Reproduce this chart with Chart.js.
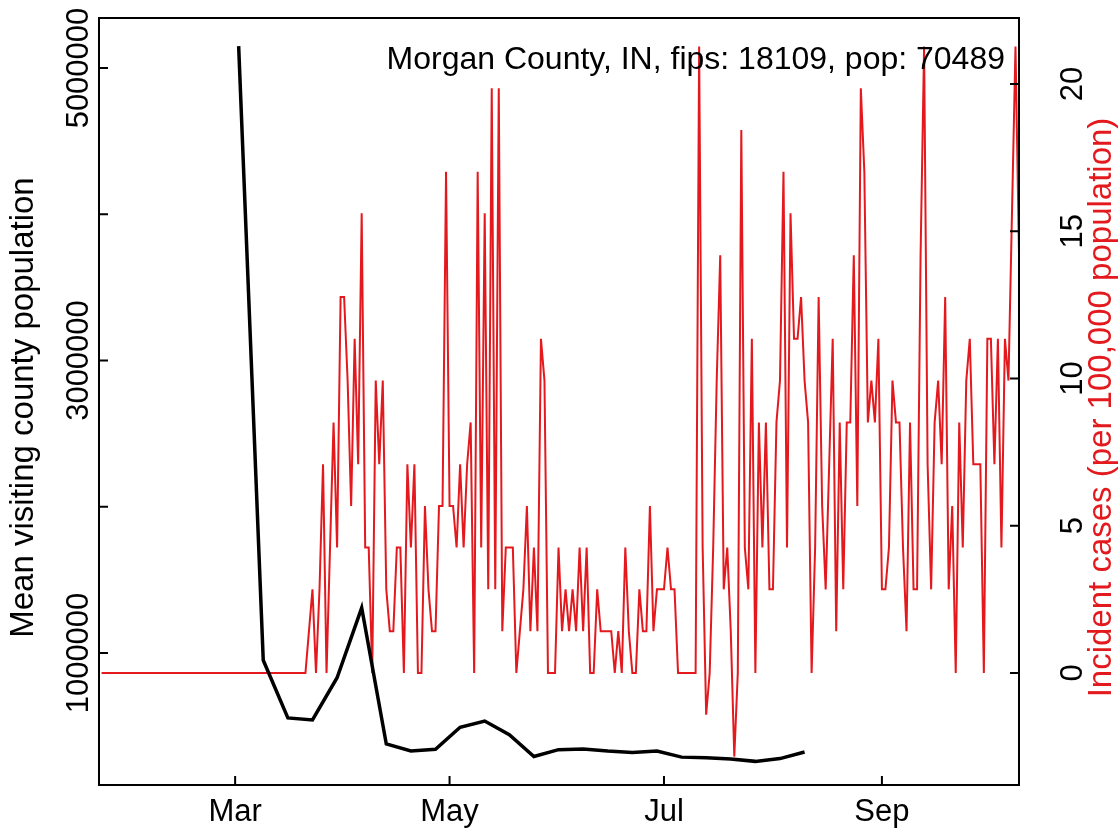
<!DOCTYPE html>
<html>
<head>
<meta charset="utf-8">
<script src="https://cdn.jsdelivr.net/npm/chart.js@4.4.1/dist/chart.umd.min.js"></script>
<style>
    html, body { margin: 0; padding: 0; background: #fff; }
    #wrap { width: 1119px; height: 829px; }
</style>
</head>
<body>
<div id="wrap"><canvas id="chart" width="1119" height="829"></canvas></div>
<script>
// day numbers counted from Jan 1 (= 0)
const monthTicks = [60, 121, 182, 244];
const monthLabels = ['Mar', 'May', 'Jul', 'Sep'];

// weekly mean visiting population (black)
const visitDays = [61, 68, 75, 82, 89, 96, 103, 110, 117, 124, 131, 138,
    145, 152, 159, 166, 173, 180, 187, 194, 201, 208, 215, 222];
const visitPop = [5150000, 950000, 556000, 542000, 831000, 1309000, 378000, 330000,
    342000, 492000, 535000, 441000, 292000, 339000, 344000, 330000, 320000, 330000,
    288000, 283000, 275000, 259000, 278000, 323000];

// daily incident cases per 100k (red), first value is day 22
const caseStartDay = 22;
const incidence = [
    0, 0, 0, 0, 0, 0, 0, 0, 0, 0, 0, 0, 0, 0, 0, 0, 0, 0, 0, 0,
    0, 0, 0, 0, 0, 0, 0, 0, 0, 0, 0, 0, 0, 0, 0, 0, 0, 0, 0, 0,
    0, 0, 0, 0, 0, 0, 0, 0, 0, 0, 0, 0, 0, 0, 0, 0, 0, 0, 0,
    1.42, 2.84, 0, 2.84, 7.09, 0, 4.26, 8.51, 4.26, 12.77,          // 81-90
    12.77, 9.93, 5.67, 11.35, 7.09, 15.61, 4.26, 4.26, 0, 9.93,     // 91-100
    7.09, 9.93, 2.84, 1.42, 1.42, 4.26, 4.26, 0, 7.09, 4.26,        // 101-110
    7.09, 0, 0, 5.67, 2.84, 1.42, 1.42, 5.67, 5.67, 17.02,          // 111-120
    5.67, 5.67, 4.26, 7.09, 4.26, 7.09, 8.51, 0, 17.02, 4.26,       // 121-130
    15.61, 2.84, 19.86, 2.84, 19.86, 1.42, 4.26, 4.26, 4.26, 0,     // 131-140
    1.42, 2.84, 5.67, 1.42, 4.26, 1.42, 11.35, 9.93, 0, 0,          // 141-150
    0, 4.26, 1.42, 2.84, 1.42, 2.84, 1.42, 4.26, 1.42, 4.26,        // 151-160
    0, 0, 2.84, 1.42, 1.42, 1.42, 1.42, 0, 1.42, 0,                 // 161-170
    4.26, 1.42, 0, 0, 2.84, 1.42, 1.42, 5.67, 1.42, 2.84,           // 171-180
    2.84, 2.84, 4.26, 2.84, 2.84, 0, 0, 0, 0, 0,                    // 181-190
    0, 21.28, 4.26, -1.42, 0, 4.26, 9.93, 14.19, 2.84, 4.26,        // 191-200
    1.42, -2.84, 0, 18.44, 4.26, 2.84, 11.35, 0, 8.51, 4.26,        // 201-210
    8.51, 2.84, 2.84, 8.51, 9.93, 17.02, 4.26, 15.61, 11.35, 11.35, // 211-220
    12.77, 9.93, 8.51, 0, 4.26, 12.77, 5.67, 2.84, 7.09, 11.35,     // 221-230
    1.42, 8.51, 2.84, 8.51, 8.51, 14.19, 5.67, 19.86, 17.02, 8.51,  // 231-240
    9.93, 8.51, 11.35, 2.84, 2.84, 4.26, 9.93, 8.51, 8.51, 4.26,    // 241-250
    1.42, 8.51, 2.84, 2.84, 14.19, 21.28, 7.09, 2.84, 8.51, 9.93,   // 251-260
    7.09, 12.77, 2.84, 5.67, 0, 8.51, 4.26, 9.93, 11.35, 7.09,      // 261-270
    7.09, 7.09, 0, 11.35, 11.35, 7.09, 11.35, 4.26, 11.35, 9.93,    // 271-280
    15.61, 21.28, 14.19                                             // 281-283
];

const leftTicks = [1000000, 2000000, 3000000, 4000000, 5000000];
const leftTickLabels = ['1000000', '', '3000000', '', '5000000'];
const rightTicks = [0, 5, 10, 15, 20];
const titleText = 'Morgan County, IN, fips: 18109, pop: 70489';
const leftAxisTitle = 'Mean visiting county population';
const rightAxisTitle = 'Incident cases (per 100,000 population)';

const redColor = '#e3191e';
const family = '"Liberation Sans", Arial, Helvetica, sans-serif';
const tickFont = '31px ' + family;
const axisTitleFont = '33px ' + family;
const titleFont = '32px ' + family;

const frame = {
    id: 'frame',
    afterDraw(chart) {
        const { ctx, chartArea: a, scales } = chart;
        const tick = 9;
        ctx.save();
        ctx.strokeStyle = '#000';
        ctx.lineWidth = 2;
        ctx.strokeRect(a.left, a.top, a.right - a.left, a.bottom - a.top);

        ctx.beginPath();
        monthTicks.forEach((d) => {
            const x = scales.x.getPixelForValue(d);
            ctx.moveTo(x, a.bottom);
            ctx.lineTo(x, a.bottom - tick);
        });
        leftTicks.forEach((v) => {
            const y = scales.yL.getPixelForValue(v);
            ctx.moveTo(a.left, y);
            ctx.lineTo(a.left + tick, y);
        });
        rightTicks.forEach((v) => {
            const y = scales.yR.getPixelForValue(v);
            ctx.moveTo(a.right, y);
            ctx.lineTo(a.right - tick, y);
        });
        ctx.stroke();

        ctx.font = tickFont;
        ctx.fillStyle = '#000';
        ctx.textBaseline = 'alphabetic';

        ctx.textAlign = 'center';
        monthTicks.forEach((d, i) => {
            ctx.fillText(monthLabels[i], scales.x.getPixelForValue(d), 821);
        });

        const vertical = (text, x, y, color) => {
            ctx.save();
            ctx.fillStyle = color;
            ctx.translate(x, y);
            ctx.rotate(-Math.PI / 2);
            ctx.textAlign = 'center';
            ctx.fillText(text, 0, 0);
            ctx.restore();
        };
        leftTicks.forEach((v, i) => {
            if (leftTickLabels[i]) vertical(leftTickLabels[i], 88, scales.yL.getPixelForValue(v), '#000');
        });
        rightTicks.forEach((v) => {
            vertical(String(v), 1082, scales.yR.getPixelForValue(v), '#000');
        });
        const midY = (a.top + a.bottom) / 2 + 6;
        ctx.font = axisTitleFont;
        vertical(leftAxisTitle, 33, midY, '#000');
        vertical(rightAxisTitle, 1111, midY, redColor);

        ctx.font = titleFont;
        ctx.textAlign = 'right';
        ctx.fillStyle = '#000';
        ctx.fillText(titleText, 1005, 69);
        ctx.restore();
    },
};

new Chart(document.getElementById('chart'), {
    type: 'line',
    data: {
        datasets: [
            {
                label: 'visiting',
                data: visitDays.map((d, i) => ({ x: d, y: visitPop[i] })),
                yAxisID: 'yL',
                borderColor: '#000',
                borderWidth: 3.5,
                pointRadius: 0,
                tension: 0,
            },
            {
                label: 'cases',
                data: incidence.map((v, i) => ({ x: caseStartDay + i, y: v })),
                yAxisID: 'yR',
                borderColor: redColor,
                borderWidth: 2,
                pointRadius: 0,
                tension: 0,
            },
        ],
    },
    options: {
        responsive: false,
        animation: false,
        events: [],
        layout: { padding: { top: 18 } },
        plugins: {
            legend: { display: false },
            tooltip: { enabled: false },
        },
        scales: {
            x: {
                type: 'linear',
                min: 21.27,
                max: 283.0,
                grid: { display: false },
                border: { display: false },
                ticks: { display: false },
                afterFit: (s) => { s.height = 44; },
            },
            yL: {
                type: 'linear',
                position: 'left',
                min: 97400,
                max: 5342000,
                grid: { display: false },
                border: { display: false },
                ticks: { display: false },
                afterFit: (s) => { s.width = 99; },
            },
            yR: {
                type: 'linear',
                position: 'right',
                min: -3.805,
                max: 22.245,
                grid: { display: false },
                border: { display: false },
                ticks: { display: false },
                afterFit: (s) => { s.width = 100; },
            },
        },
    },
    plugins: [frame],
});
</script>
</body>
</html>
